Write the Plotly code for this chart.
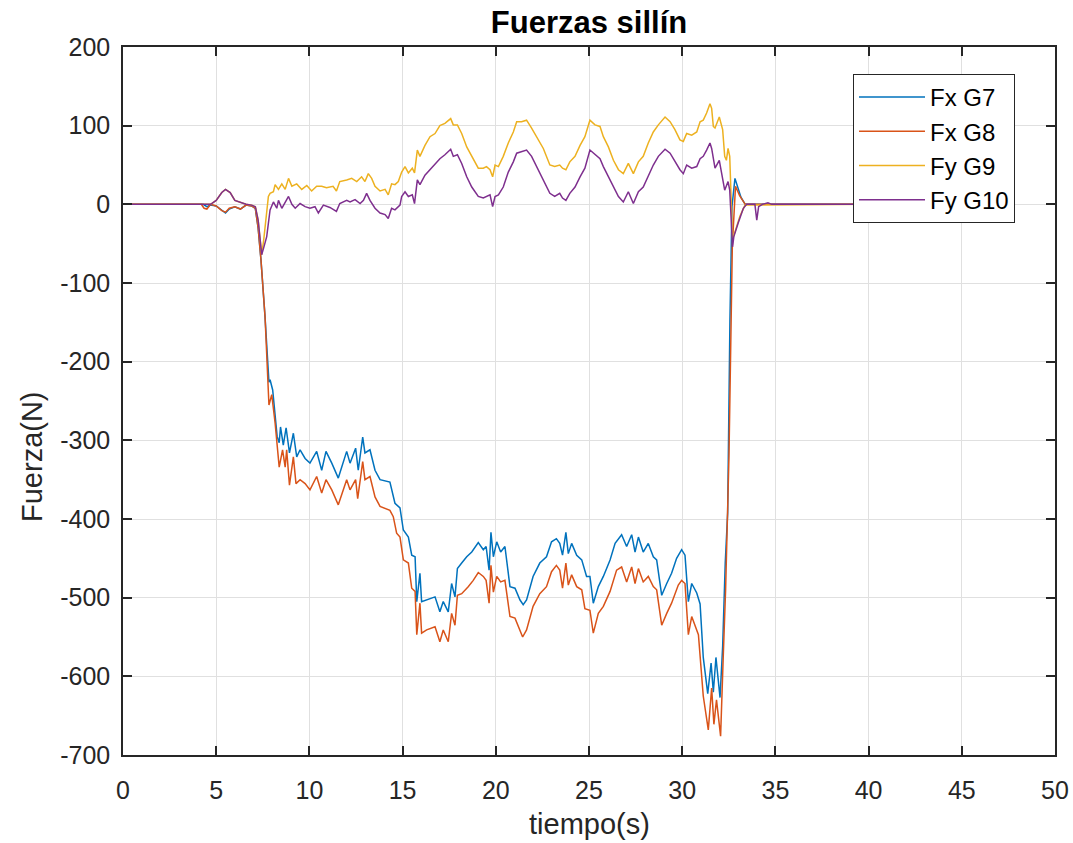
import plotly.graph_objects as go

# ---------------- data ----------------
t_g7 = [0, 4.3, 4.5, 4.7, 5.0, 5.3, 5.5, 5.7, 6.0, 6.3,
        6.6, 6.9, 7.1, 7.25, 7.4, 7.62, 7.74, 7.83, 7.89, 8.03,
        8.27, 8.38, 8.45, 8.6, 8.75, 8.93, 9.14, 9.32, 9.5, 9.77,
        10.03, 10.39, 10.66, 10.89, 11.2, 11.55, 12.0, 12.18, 12.48, 12.62,
        12.86, 12.98, 13.25, 13.52, 13.79, 14.32, 14.59, 14.86, 15.04, 15.31,
        15.49, 15.67, 15.76, 15.93, 16.02, 16.29, 16.74, 17.0, 17.18, 17.45,
        17.63, 17.81, 17.94, 18.17, 18.44, 18.71, 19.06, 19.33, 19.48, 19.64,
        19.74, 19.87, 20.05, 20.26, 20.49, 20.76, 21.03, 21.3, 21.47, 21.65,
        22.0, 22.36, 22.72, 22.99, 23.25, 23.43, 23.58, 23.76, 23.89, 24.07,
        24.34, 24.61, 24.87, 25.05, 25.23, 25.5, 25.77, 26.13, 26.4, 26.75,
        27.02, 27.29, 27.47, 27.65, 27.91, 28.18, 28.45, 28.63, 28.9, 29.17,
        29.43, 29.7, 29.97, 30.15, 30.33, 30.51, 30.78, 30.96, 31.13, 31.37,
        31.55, 31.67, 31.81, 32.03, 32.17, 32.31, 32.44, 32.56, 32.67, 32.83,
        32.97, 33.15, 33.38, 40.0]
fx_g7 = [0, 0, -3, -1, -2, -8, -11, -6, -3, -6,
         -1, -2, -5, -30, -70, -143, -198, -226, -223, -236,
         -295, -303, -283, -306, -284, -316, -291, -321, -312, -323,
         -329, -314, -338, -314, -329, -348, -314, -329, -310, -338,
         -296, -316, -312, -338, -350, -353, -380, -386, -414, -423,
         -446, -448, -505, -469, -505, -503, -499, -518, -505, -518,
         -482, -499, -463, -456, -448, -442, -430, -439, -435, -465,
         -417, -448, -429, -442, -435, -486, -488, -503, -509, -503,
         -473, -456, -448, -429, -425, -431, -446, -417, -444, -431,
         -446, -452, -473, -473, -507, -486, -473, -452, -431, -420,
         -435, -420, -442, -423, -442, -431, -448, -452, -497, -482,
         -469, -450, -439, -446, -505, -482, -494, -508, -576, -622,
         -583, -620, -576, -627, -562, -455, -392, -149, -3, 33,
         21, 9, 0, 0]

t_g8 = [0, 4.2, 4.35, 4.5, 4.7, 5.0, 5.3, 5.5, 5.7, 6.0,
        6.3, 6.6, 6.9, 7.1, 7.25, 7.4, 7.62, 7.74, 7.83, 7.98,
        8.16, 8.38, 8.56, 8.7, 8.78, 8.93, 9.14, 9.28, 9.5, 9.77,
        10.03, 10.39, 10.66, 10.89, 11.2, 11.55, 12.0, 12.18, 12.48, 12.59,
        12.86, 12.98, 13.25, 13.52, 13.79, 14.32, 14.5, 14.68, 14.86, 15.04,
        15.31, 15.49, 15.67, 15.76, 15.93, 16.02, 16.29, 16.74, 17.0, 17.18,
        17.45, 17.63, 17.81, 17.94, 18.17, 18.52, 18.79, 19.06, 19.33, 19.48,
        19.64, 19.74, 19.87, 20.05, 20.26, 20.49, 20.76, 21.03, 21.3, 21.44,
        21.65, 22.0, 22.36, 22.72, 22.99, 23.25, 23.43, 23.58, 23.76, 23.89,
        24.07, 24.34, 24.61, 24.78, 25.05, 25.23, 25.5, 25.77, 26.13, 26.48,
        26.75, 27.02, 27.29, 27.47, 27.65, 27.91, 28.18, 28.45, 28.63, 28.9,
        29.17, 29.43, 29.79, 29.97, 30.15, 30.33, 30.51, 30.87, 31.13, 31.4,
        31.58, 31.7, 31.84, 32.06, 32.2, 32.33, 32.51, 32.69, 32.86, 33.08,
        33.38, 40.0]
fx_g8 = [0, 0, -5, -6, 0, -2, -8, -10, -5, -3,
         -6, -1, -2, -5, -30, -70, -143, -198, -255, -242,
         -278, -334, -312, -334, -312, -357, -321, -355, -350, -355,
         -363, -346, -367, -350, -363, -382, -350, -363, -350, -374,
         -327, -350, -346, -372, -384, -389, -397, -418, -423, -452,
         -456, -488, -492, -547, -507, -545, -541, -537, -556, -541,
         -556, -520, -535, -497, -495, -486, -478, -468, -473, -478,
         -507, -459, -493, -473, -480, -478, -524, -526, -541, -550,
         -541, -511, -495, -486, -467, -459, -465, -488, -456, -484,
         -471, -486, -490, -514, -516, -545, -520, -511, -492, -465,
         -461, -480, -461, -482, -463, -480, -473, -486, -490, -535,
         -520, -507, -484, -478, -482, -547, -524, -547, -625, -668,
         -615, -661, -630, -676, -576, -489, -319, -52, 23, 11,
         0, 0]

t_g9 = [0, 4.7, 5.0, 5.3, 5.5, 5.75, 6.0, 6.3, 6.6, 6.9,
        7.1, 7.25, 7.44, 7.55, 7.65, 7.8, 7.89, 8.07, 8.16, 8.34,
        8.52, 8.7, 8.88, 9.06, 9.32, 9.59, 9.86, 10.12, 10.39, 10.66,
        10.92, 11.27, 11.45, 11.63, 12.0, 12.27, 12.54, 12.8, 12.98, 13.16,
        13.34, 13.52, 13.79, 14.06, 14.23, 14.41, 14.59, 14.77, 14.95, 15.13,
        15.31, 15.52, 15.64, 15.79, 15.93, 16.2, 16.47, 16.74, 17.0, 17.27,
        17.58, 17.72, 17.94, 18.17, 18.44, 18.71, 19.06, 19.33, 19.5, 19.69,
        19.83, 19.96, 20.14, 20.4, 20.67, 20.94, 21.12, 21.38, 21.65, 21.92,
        22.18, 22.55, 22.9, 23.16, 23.43, 23.58, 23.76, 23.97, 24.25, 24.52,
        24.78, 25.05, 25.32, 25.59, 25.77, 26.04, 26.31, 26.58, 26.84, 27.11,
        27.38, 27.65, 27.91, 28.18, 28.45, 28.72, 29.08, 29.35, 29.61, 29.88,
        30.06, 30.24, 30.51, 30.78, 30.96, 31.13, 31.31, 31.49, 31.58, 31.67,
        31.76, 31.99, 32.17, 32.28, 32.37, 32.46, 32.55, 32.7, 32.83, 33.1,
        33.37, 40.0]
fy_g9 = [0, 0, 5, 15, 19, 15, 5, 2, 0, -1,
         -3, -20, -64, -45, -20, 10, 14, 16, 25, 19,
         26, 19, 33, 23, 26, 19, 24, 17, 23, 23,
         21, 23, 17, 29, 31, 33, 29, 35, 29, 39,
         33, 23, 17, 19, 12, 26, 25, 29, 41, 48,
         40, 46, 40, 69, 61, 75, 86, 90, 100, 103,
         109, 101, 101, 90, 73, 61, 46, 46, 48, 44,
         35, 50, 48, 61, 78, 92, 105, 105, 107, 97,
         86, 71, 50, 48, 50, 46, 44, 54, 61, 75,
         86, 107, 101, 99, 86, 73, 56, 44, 39, 52,
         39, 54, 61, 78, 92, 101, 111, 105, 95, 82,
         80, 90, 88, 92, 105, 107, 116, 128, 122, 99,
         97, 111, 95, 61, 56, 71, 61, -45, -35, -15,
         -1, 0]

t_g10 = [0, 4.7, 5.0, 5.3, 5.5, 5.75, 6.0, 6.3, 6.6, 6.9,
         7.1, 7.25, 7.44, 7.55, 7.71, 7.89, 8.07, 8.25, 8.34, 8.52,
         8.7, 8.88, 9.06, 9.24, 9.5, 9.77, 10.03, 10.3, 10.48, 10.75,
         11.1, 11.45, 11.63, 12.0, 12.18, 12.45, 12.72, 12.9, 13.07, 13.25,
         13.52, 13.79, 14.06, 14.23, 14.41, 14.59, 14.86, 14.95, 15.13, 15.31,
         15.52, 15.64, 15.79, 15.93, 16.2, 16.47, 16.74, 17.0, 17.27, 17.58,
         17.72, 17.94, 18.17, 18.44, 18.71, 19.06, 19.33, 19.5, 19.69, 19.83,
         19.96, 20.14, 20.4, 20.67, 20.94, 21.12, 21.38, 21.65, 21.92, 22.18,
         22.55, 22.9, 23.16, 23.43, 23.58, 23.76, 23.97, 24.25, 24.52, 24.78,
         25.05, 25.32, 25.59, 25.77, 26.04, 26.31, 26.58, 26.84, 27.11, 27.38,
         27.65, 27.91, 28.18, 28.45, 28.72, 29.08, 29.35, 29.61, 29.88, 30.06,
         30.24, 30.51, 30.78, 30.96, 31.13, 31.31, 31.49, 31.58, 31.67, 31.76,
         31.99, 32.17, 32.28, 32.46, 32.55, 32.7, 32.77, 33.0, 33.28, 33.46,
         33.9, 34.0, 34.1, 34.3, 34.6, 34.8, 40.0]
fy_g10 = [0, 0, 5, 15, 19, 15, 5, 2, 0, -1,
          -3, -20, -64, -55, -41, -7, 3, -5, 5, -5,
          3, 10, 0, -5, 1, -3, -5, -3, -11, -1,
          -4, -9, 1, 5, 3, 6, 1, 5, 14, 5,
          -5, -11, -13, -18, -5, -7, -1, 10, 16, 10,
          12, 1, 31, 25, 37, 44, 50, 58, 63, 70,
          61, 63, 52, 35, 22, 10, 8, 10, 12, -3,
          10, 12, 22, 41, 54, 65, 67, 69, 61, 48,
          31, 14, 10, 14, 8, 5, 14, 22, 35, 46,
          69, 63, 58, 48, 35, 22, 10, 3, 16, 1,
          16, 22, 37, 50, 61, 70, 65, 54, 44, 39,
          50, 46, 48, 58, 61, 69, 78, 71, 56, 46,
          56, 35, 18, 29, 18, -54, -41, -24, -5, 0,
          0, -20, -3, 0, 2, 0, 0]

series_names = ["Fx G7", "Fx G8", "Fy G9", "Fy G10"]
x_ticks = [0, 5, 10, 15, 20, 25, 30, 35, 40, 45, 50]
y_ticks = [-700, -600, -500, -400, -300, -200, -100, 0, 100, 200]

# ---------------- figure ----------------
series = [(t_g7, fx_g7), (t_g8, fx_g8), (t_g9, fy_g9), (t_g10, fy_g10)]
colors = ["#0072BD", "#D95319", "#EDB120", "#7E2F8E"]
for (tt, vv), nm in zip(series, series_names):
    if len(tt) != len(vv):
        raise ValueError(f"{nm}: {len(tt)} times vs {len(vv)} values")

FONT = "Liberation Sans, Arial, Helvetica, sans-serif"
AX = "#262626"

fig = go.Figure()
for (tt, vv), nm, c in zip(series, series_names, colors):
    fig.add_trace(go.Scatter(x=tt, y=vv, mode="lines", name=nm,
                             line=dict(color=c, width=1.5)))

axis_common = dict(showgrid=True, gridcolor="#e0e0e0", gridwidth=1,
                   showline=True, linecolor=AX, linewidth=1.5, mirror="ticks",
                   ticks="inside", ticklen=9, tickwidth=1.5, tickcolor=AX,
                   zeroline=False, automargin=False,
                   tickfont=dict(family=FONT, size=25, color=AX))

fig.update_xaxes(range=[0, 50], tickvals=x_ticks,
                 ticktext=[str(v) for v in x_ticks],
                 ticklabelstandoff=12, **axis_common)
fig.update_yaxes(range=[-700, 200], tickvals=y_ticks,
                 ticktext=[str(v) for v in y_ticks],
                 ticklabelstandoff=6, **axis_common)

fig.update_layout(
    width=1073, height=843,
    margin=dict(l=123, r=18, t=47, b=88),
    paper_bgcolor="white", plot_bgcolor="white",
    font=dict(family=FONT, color=AX),
    title=dict(text="<b>Fuerzas sillín</b>", x=0.5, xref="paper",
               xanchor="center", y=1 - 22 / 843, yref="container",
               yanchor="middle", font=dict(family=FONT, size=31, color="black")),
    legend=dict(x=(853 - 123) / 932, y=(755 - 74) / 708, xanchor="left",
                yanchor="top", bgcolor="white", bordercolor=AX, borderwidth=1,
                font=dict(family=FONT, size=24, color="black"),
                itemwidth=66, tracegroupgap=0),
    showlegend=True,
    annotations=[
        dict(text="tiempo(s)", x=0.5, y=(755 - 824) / 708, xref="paper",
             yref="paper", showarrow=False, xanchor="center", yanchor="middle",
             font=dict(family=FONT, size=29, color=AX)),
        dict(text="Fuerza(N)", x=(32 - 123) / 932, y=(755 - 457) / 708,
             xref="paper", yref="paper", showarrow=False, textangle=-90,
             xanchor="center", yanchor="middle",
             font=dict(family=FONT, size=29, color=AX)),
    ],
)

fig.write_html("out.html")
